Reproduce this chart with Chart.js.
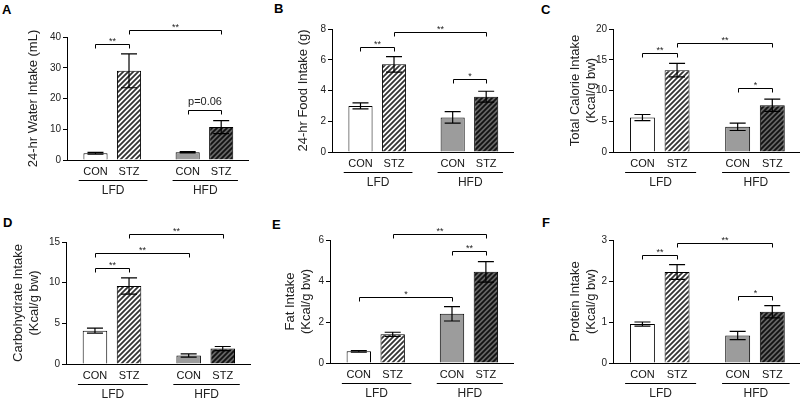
<!DOCTYPE html>
<html lang="en">
<head>
<meta charset="UTF-8">
<title>Intake panels</title>
<script src="https://cdn.jsdelivr.net/npm/chart.js"></script>
<style>
  * { margin: 0; padding: 0; box-sizing: border-box; }
  body { width: 800px; height: 400px; background: #fff; position: relative; overflow: hidden;
         font-family: 'Liberation Sans', Arial, sans-serif; }
  canvas { position: absolute; }
  .letter { position: absolute; font-weight: bold; font-size: 13px; color: #000; line-height: 15px; }
</style>
</head>
<body>
<div class="letter" style="left:2px;top:2px">A</div>
<div class="letter" style="left:274px;top:1px">B</div>
<div class="letter" style="left:541px;top:2px">C</div>
<div class="letter" style="left:3px;top:215px">D</div>
<div class="letter" style="left:272px;top:217px">E</div>
<div class="letter" style="left:542px;top:215px">F</div>

<canvas id="chartA" width="265" height="200" style="left:0;top:0"></canvas>
<canvas id="chartB" width="265" height="200" style="left:265px;top:0"></canvas>
<canvas id="chartC" width="270" height="200" style="left:530px;top:0"></canvas>
<canvas id="chartD" width="265" height="200" style="left:0;top:200px"></canvas>
<canvas id="chartE" width="265" height="200" style="left:265px;top:200px"></canvas>
<canvas id="chartF" width="270" height="200" style="left:530px;top:200px"></canvas>

<script>
// ---- data ----
const categories = ['CON', 'STZ', 'CON', 'STZ'];
const groups = ['LFD', 'HFD'];
const xPositions = [1, 2, 3.75, 4.75];

const waterMean = [2.2, 29.0, 2.5, 10.7];
const waterSem  = [0.3, 5.5, 0.2, 2.1];
const waterSig  = [[0, 1, 37.7, '**'], [1, 3, 42.3, '**'], [2, 3, 16.3, 'p=0.06']];

const foodMean = [3.0, 5.7, 2.25, 3.6];
const foodSem  = [0.2, 0.5, 0.37, 0.35];
const foodSig  = [[0, 1, 6.83, '**'], [1, 3, 7.8, '**'], [2, 3, 4.75, '*']];

const calorieMean = [5.6, 13.3, 4.1, 7.6];
const calorieSem  = [0.5, 1.1, 0.6, 1.0];
const calorieSig  = [[0, 1, 16.1, '**'], [1, 3, 17.7, '**'], [2, 3, 10.4, '*']];

const carbMean = [4.1, 9.6, 1.05, 1.9];
const carbSem  = [0.3, 1.0, 0.2, 0.25];
const carbSig  = [[0, 1, 11.8, '**'], [0, 2, 13.6, '**'], [1, 3, 16.0, '**']];

const fatMean = [0.57, 1.4, 2.4, 4.45];
const fatSem  = [0.04, 0.1, 0.35, 0.5];
const fatSig  = [[0, 2, 3.23, '*'], [2, 3, 5.46, '**'], [1, 3, 6.3, '**']];

const proteinMean = [0.95, 2.22, 0.67, 1.25];
const proteinSem  = [0.05, 0.18, 0.1, 0.15];
const proteinSig  = [[0, 1, 2.63, '**'], [1, 3, 2.93, '**'], [2, 3, 1.63, '*']];

// ---- styling helpers ----
const FONT = "'Liberation Sans', Arial, sans-serif";
const TITLE_SIZE = 13;
const TITLE_LH = 1.3;
const groupSpans = [[0.5, 2.55], [3.3, 5.25]];

function makeHatch(bg, fg) {
    const c = document.createElement('canvas');
    c.width = 5; c.height = 5;
    const g = c.getContext('2d');
    g.fillStyle = bg;
    g.fillRect(0, 0, 5, 5);
    g.strokeStyle = fg;
    g.lineWidth = 1.8;
    g.beginPath();
    g.moveTo(0, 5); g.lineTo(5, 0);
    g.moveTo(-1, 1); g.lineTo(1, -1);
    g.moveTo(4, 6); g.lineTo(6, 4);
    g.stroke();
    return g.createPattern(c, 'repeat');
}

const barFills = [
    '#ffffff',
    makeHatch('#ffffff', '#333333'),
    '#9c9c9c',
    makeHatch('#666666', '#111111')
];

function makePanel(id, opts) {
    const {mean, sem, sig, yMax, step, title, titleX, left, top, bottom, right, width} = opts;
    const half = TITLE_SIZE * TITLE_LH / 2;
    const padLeft = titleX - half;

    const extras = {
        id: 'extras' + id,
        afterDatasetsDraw(chart) {
            const ctx = chart.ctx;
            const ys = chart.scales.y;
            ctx.save();
            ctx.strokeStyle = '#000';
            ctx.lineWidth = 1.2;
            // error bars
            chart.getDatasetMeta(0).data.forEach((bar, i) => {
                const yt = ys.getPixelForValue(mean[i] + sem[i]);
                const yb = ys.getPixelForValue(mean[i] - sem[i]);
                ctx.beginPath();
                ctx.moveTo(bar.x, yt); ctx.lineTo(bar.x, yb);
                ctx.moveTo(bar.x - 8, yt); ctx.lineTo(bar.x + 8, yt);
                ctx.moveTo(bar.x - 8, yb); ctx.lineTo(bar.x + 8, yb);
                ctx.stroke();
            });
            ctx.restore();
        },
        afterDraw(chart) {
            const ctx = chart.ctx;
            const xs = chart.scales.x, ys = chart.scales.y;
            const area = chart.chartArea;
            ctx.save();
            ctx.strokeStyle = '#000';
            ctx.fillStyle = '#222';
            ctx.lineWidth = 1;
            ctx.textAlign = 'center';
            // significance brackets
            sig.forEach(([a, b, v, label]) => {
                const x1 = Math.round(xs.getPixelForValue(xPositions[a])) + 0.5;
                const x2 = Math.round(xs.getPixelForValue(xPositions[b])) + 0.5;
                const y = Math.round(ys.getPixelForValue(v)) + 0.5;
                ctx.beginPath();
                ctx.moveTo(x1, y + 4); ctx.lineTo(x1, y); ctx.lineTo(x2, y); ctx.lineTo(x2, y + 4);
                ctx.stroke();
                ctx.textBaseline = 'alphabetic';
                if (label.startsWith('p')) {
                    ctx.font = '11px ' + FONT;
                    ctx.fillText(label, (x1 + x2) / 2, y - 6);
                } else {
                    ctx.font = '9px ' + FONT;
                    ctx.fillText(label, (x1 + x2) / 2, y - 1);
                }
            });
            // group underlines and labels
            ctx.font = '12px ' + FONT;
            ctx.textBaseline = 'middle';
            groupSpans.forEach(([s, e], g) => {
                const x1 = xs.getPixelForValue(s), x2 = xs.getPixelForValue(e);
                const y = Math.round(area.bottom + 20) + 0.5;
                ctx.beginPath();
                ctx.moveTo(x1, y); ctx.lineTo(x2, y);
                ctx.stroke();
                ctx.fillText(groups[g], (x1 + x2) / 2, area.bottom + 31);
            });
            ctx.restore();
        }
    };

    return new Chart(document.getElementById(id), {
        type: 'bar',
        data: {
            datasets: [{
                data: xPositions.map((x, i) => ({x: x, y: mean[i]})),
                backgroundColor: barFills,
                borderColor: '#000',
                borderWidth: 1,
                categoryPercentage: 0.9,
                barPercentage: 0.8
            }]
        },
        options: {
            responsive: false,
            animation: false,
            devicePixelRatio: 1,
            layout: { padding: { left: padLeft, top: top, right: width - right, bottom: 0 } },
            plugins: { legend: { display: false }, tooltip: { enabled: false } },
            scales: {
                x: {
                    type: 'linear',
                    min: 0.15,
                    max: 5.55,
                    offset: false,
                    grid: { display: false, drawTicks: false },
                    border: { display: true, color: '#000', width: 1 },
                    afterBuildTicks: s => { s.ticks = xPositions.map(v => ({value: v})); },
                    afterFit: s => { s.height = 200 - bottom; },
                    ticks: {
                        callback: (v, i) => categories[i],
                        autoSkip: false,
                        maxRotation: 0,
                        padding: 5,
                        color: '#111',
                        font: { family: FONT, size: 11 }
                    }
                },
                y: {
                    min: 0,
                    max: yMax,
                    grid: { drawOnChartArea: false, drawTicks: true, tickLength: 4, color: '#000' },
                    border: { display: true, color: '#000', width: 1 },
                    afterFit: s => { s.width = left - padLeft; },
                    ticks: {
                        stepSize: step,
                        padding: 2,
                        color: '#222',
                        font: { family: FONT, size: 10 }
                    },
                    title: {
                        display: true,
                        text: title,
                        color: '#222',
                        padding: { top: 0, bottom: 0 },
                        font: { family: FONT, size: TITLE_SIZE, lineHeight: TITLE_LH }
                    }
                }
            }
        },
        plugins: [extras]
    });
}

makePanel('chartA', { mean: waterMean, sem: waterSem, sig: waterSig, yMax: 40, step: 10,
    title: '24-hr Water Intake (mL)', titleX: 33, left: 67, top: 37, bottom: 160, right: 248, width: 265 });
makePanel('chartB', { mean: foodMean, sem: foodSem, sig: foodSig, yMax: 8, step: 2,
    title: '24-hr Food Intake (g)', titleX: 38, left: 67, top: 29, bottom: 152, right: 248, width: 265 });
makePanel('chartC', { mean: calorieMean, sem: calorieSem, sig: calorieSig, yMax: 20, step: 5,
    title: ['Total Calorie Intake', '(Kcal/g bw)'], titleX: 45, left: 83, top: 29, bottom: 152, right: 270, width: 270 });
makePanel('chartD', { mean: carbMean, sem: carbSem, sig: carbSig, yMax: 15, step: 5,
    title: ['Carbohydrate Intake', '(Kcal/g bw)'], titleX: 18, left: 66, top: 42, bottom: 164, right: 250, width: 265 });
makePanel('chartE', { mean: fatMean, sem: fatSem, sig: fatSig, yMax: 6, step: 2,
    title: ['Fat Intake', '(Kcal/g bw)'], titleX: 25, left: 65, top: 40, bottom: 163, right: 248, width: 265 });
makePanel('chartF', { mean: proteinMean, sem: proteinSem, sig: proteinSig, yMax: 3, step: 1,
    title: ['Protein Intake', '(Kcal/g bw)'], titleX: 45, left: 83, top: 40, bottom: 163, right: 270, width: 270 });
</script>
</body>
</html>
